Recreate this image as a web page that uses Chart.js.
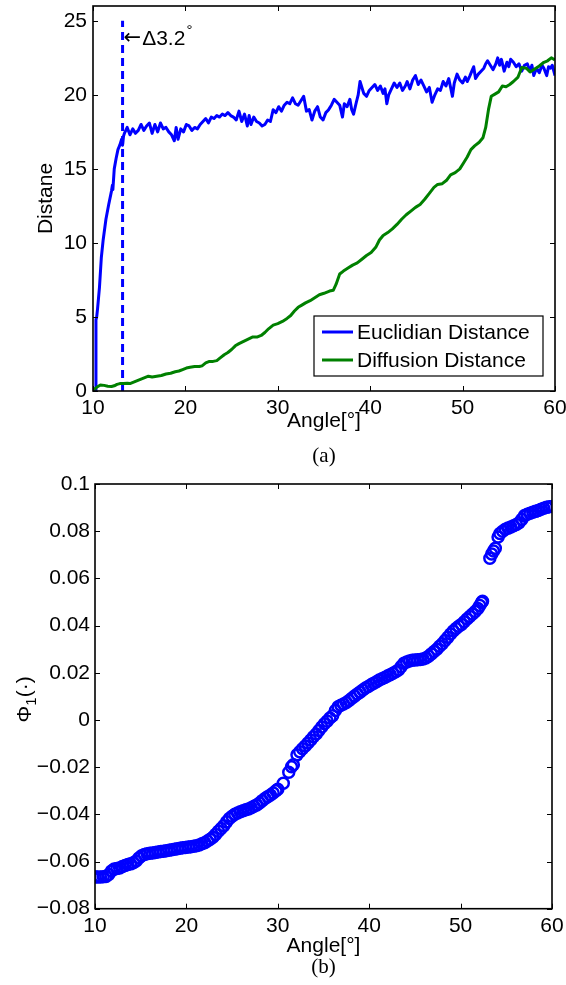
<!DOCTYPE html>
<html>
<head>
<meta charset="utf-8">
<script src="https://cdn.jsdelivr.net/npm/chart.js@4/dist/chart.umd.min.js"></script>
<style>
html,body{margin:0;padding:0;background:#fff;}
#wrap{position:relative;width:566px;height:985px;overflow:hidden;}
canvas{position:absolute;left:0;}
#ca{top:0;}
#cb{top:470px;}
</style>
</head>
<body>
<div id="wrap">
<canvas id="ca" width="566" height="470"></canvas>
<canvas id="cb" width="566" height="515"></canvas>
</div>
<script>
// ---------- data: panel (a) ----------
const seriesNames = ['Euclidian Distance', 'Diffusion Distance'];
const distTicks = [0, 5, 10, 15, 20, 25];
const distTickLabels = ['0', '5', '10', '15', '20', '25'];
const angleTicks = [10, 20, 30, 40, 50, 60];
const angleTickLabels = ['10', '20', '30', '40', '50', '60'];
const thresholdAngle = 13.2;
const thresholdLine = [[13.2, 0], [13.2, 25]];
const thresholdArrow = '\u2190';
const thresholdText = '\u03943.2';

const euclidPoints = [
 [10.3,0],[10.32,4.8],[10.4,5.0],[10.5,5.6],[10.7,7.0],[10.9,9.0],[11.1,10.2],[11.4,11.6],[11.7,12.6],[12.0,13.5],
 [12.1,13.9],[12.15,13.6],[12.3,15.0],[12.5,15.7],[12.7,16.3],[12.9,16.6],[13.1,17.0],[13.2,16.6],[13.3,17.2],
 [13.4,17.4],[13.7,17.8],[14.0,17.3],[14.3,17.7],[14.6,17.4],[14.9,17.6],[15.2,18.0],[15.5,17.6],[15.8,17.9],[16.1,18.1],
 [16.4,17.4],[16.7,18.0],[17.0,17.5],[17.3,18.1],[17.6,17.7],[17.9,17.8],[18.2,17.5],[18.5,17.3],[18.8,16.9],[19.0,17.8],
 [19.2,17.0],[19.5,17.7],[19.8,17.5],[20.1,18.0],[20.4,17.9],[20.7,17.6],[21.0,17.8],[21.3,17.7],[21.6,18.0],[21.9,18.2],
 [22.2,18.4],[22.5,18.1],[22.8,18.5],[23.1,18.4],[23.4,18.6],[23.7,18.5],[24.0,18.7],[24.3,18.6],[24.6,18.8],[24.9,18.6],
 [25.2,18.5],[25.5,18.3],[25.8,18.9],[26.1,18.2],[26.4,18.7],[26.7,17.9],[26.9,18.6],[27.1,18.0],[27.4,18.5],[27.7,18.2],
 [28.0,18.1],[28.3,17.9],[28.6,18.0],[28.9,18.3],[29.2,18.2],[29.5,19.0],[29.8,18.8],[30.1,19.2],[30.4,18.9],[30.7,19.3],
 [31.0,19.5],[31.3,19.4],[31.6,19.8],[31.9,19.4],[32.2,19.3],[32.5,19.6],[32.8,19.9],[33.1,18.9],[33.4,19.0],[33.7,18.3],
 [34.0,18.9],[34.3,19.2],[34.6,18.5],[34.9,18.3],[35.2,18.8],[35.5,19.0],[35.8,19.3],[36.1,19.7],[36.4,19.5],[36.7,19.3],
 [37.0,18.5],[37.2,19.4],[37.5,19.2],[37.8,19.7],[38.0,19.0],[38.2,18.7],[38.5,19.5],[38.7,20.0],[38.9,20.9],[39.1,20.5],
 [39.3,20.1],[39.6,19.9],[39.9,20.3],[40.2,20.5],[40.5,20.7],[40.8,20.3],[41.1,20.6],[41.4,20.1],[41.6,20.4],[41.8,19.4],
 [42.0,20.0],[42.3,20.4],[42.6,20.8],[42.9,20.5],[43.2,20.8],[43.5,20.3],[43.8,20.6],[44.0,20.9],[44.3,20.4],[44.6,21.0],
 [44.9,21.3],[45.2,20.7],[45.5,21.0],[45.8,20.6],[46.1,20.2],[46.4,20.5],[46.7,19.5],[47.0,20.0],[47.3,20.4],[47.6,20.3],
 [47.9,20.9],[48.2,20.6],[48.5,21.1],[48.7,20.5],[48.9,19.9],[49.1,20.8],[49.4,21.4],[49.7,21.0],[50.0,20.8],[50.3,21.2],
 [50.5,20.9],[50.8,21.3],[51.0,21.6],[51.2,21.9],[51.4,21.1],[51.7,21.4],[52.0,21.6],[52.3,21.8],[52.5,22.1],[52.7,22.3],
 [53.0,22.0],[53.3,21.7],[53.6,22.1],[53.8,22.5],[54.0,22.0],[54.2,22.4],[54.5,21.6],[54.8,22.2],[55.0,21.9],[55.2,22.4],
 [55.5,22.2],[55.8,21.9],[56.1,22.1],[56.4,21.6],[56.7,22.0],[57.0,22.1],[57.3,21.6],[57.5,22.0],[57.7,21.3],[58.0,21.8],
 [58.3,21.5],[58.6,22.0],[58.8,21.8],[59.1,21.3],[59.3,21.9],[59.5,21.8],[59.7,22.0],[60.0,21.3]
];

const diffusionPoints = [
 [10.0,0.05],[10.4,0.25],[10.8,0.4],[11.2,0.38],[11.6,0.32],[12.0,0.3],[12.3,0.35],[12.6,0.45],[12.9,0.5],[13.3,0.5],
 [13.7,0.52],[14.0,0.5],[14.4,0.6],[14.8,0.7],[15.2,0.8],[15.6,0.9],[16.0,1.0],[16.4,0.95],[16.9,1.0],[17.4,1.05],
 [17.9,1.15],[18.4,1.2],[18.9,1.3],[19.3,1.35],[19.7,1.45],[20.1,1.55],[20.5,1.6],[21.0,1.65],[21.5,1.65],[21.8,1.7],
 [22.2,1.9],[22.6,2.0],[23.0,2.0],[23.4,2.05],[23.8,2.25],[24.2,2.45],[24.6,2.6],[25.0,2.8],[25.4,3.05],[25.8,3.2],
 [26.3,3.35],[26.8,3.5],[27.3,3.65],[27.8,3.65],[28.2,3.75],[28.6,3.95],[29.0,4.2],[29.5,4.45],[30.0,4.55],[30.5,4.7],
 [31.0,4.9],[31.4,5.1],[31.8,5.4],[32.2,5.65],[32.6,5.8],[33.0,5.95],[33.5,6.1],[34.0,6.3],[34.5,6.5],[35.0,6.6],
 [35.6,6.75],[36.0,6.8],[36.3,7.2],[36.7,7.9],[37.1,8.1],[37.6,8.3],[38.1,8.5],[38.6,8.65],[39.1,8.9],[39.6,9.15],
 [40.1,9.35],[40.6,9.7],[41.0,10.2],[41.4,10.5],[41.9,10.7],[42.4,10.95],[42.9,11.25],[43.4,11.6],[43.9,11.9],[44.4,12.15],
 [44.9,12.4],[45.4,12.6],[45.9,12.95],[46.4,13.35],[46.9,13.75],[47.3,13.95],[47.8,14.0],[48.3,14.25],[48.7,14.6],[49.2,14.75],
 [49.7,15.0],[50.1,15.4],[50.5,15.8],[50.9,16.3],[51.3,16.55],[51.8,16.8],[52.2,17.1],[52.5,17.8],[52.8,19.0],[53.1,19.9],
 [53.5,20.05],[53.9,20.2],[54.3,20.6],[54.7,20.55],[55.1,20.7],[55.5,20.9],[56.0,21.2],[56.4,21.85],[56.9,21.8],[57.3,21.55],
 [57.8,21.75],[58.3,21.95],[58.8,22.2],[59.2,22.3],[59.6,22.5],[60.0,22.35]
];

// ---------- data: panel (b) ----------
const phiTicks = [-0.08, -0.06, -0.04, -0.02, 0, 0.02, 0.04, 0.06, 0.08, 0.1];
const phiTickLabels = ['\u22120.08', '\u22120.06', '\u22120.04', '\u22120.02', '0', '0.02', '0.04', '0.06', '0.08', '0.1'];
const phiPoints = [
 [10.0,-0.0665],[10.3,-0.0666],[10.6,-0.0666],[10.9,-0.0665],[11.2,-0.0663],[11.5,-0.0655],[11.8,-0.0640],[12.1,-0.0632],
 [12.4,-0.0630],[12.7,-0.0627],[13.0,-0.0621],[13.3,-0.0617],[13.6,-0.0613],[13.9,-0.0610],[14.2,-0.0605],[14.5,-0.0598],
 [14.8,-0.0585],[15.1,-0.0576],[15.4,-0.0570],[15.7,-0.0567],[16.0,-0.0565],[16.3,-0.0564],[16.6,-0.0562],[16.9,-0.0560],
 [17.2,-0.0558],[17.5,-0.0556],[17.8,-0.0554],[18.1,-0.0552],[18.4,-0.0550],[18.7,-0.0548],[19.0,-0.0546],[19.3,-0.0544],
 [19.6,-0.0542],[19.9,-0.0541],[20.2,-0.0539],[20.5,-0.0537],[20.8,-0.0535],[21.1,-0.0533],[21.4,-0.0530],[21.7,-0.0525],
 [22.0,-0.0520],[22.3,-0.0513],[22.6,-0.0506],[22.9,-0.0497],[23.2,-0.0485],[23.5,-0.0472],[23.8,-0.0460],[24.1,-0.0448],
 [24.4,-0.0432],[24.7,-0.0418],[25.0,-0.0408],[25.3,-0.0400],[25.6,-0.0394],[25.9,-0.0389],[26.2,-0.0385],[26.5,-0.0381],
 [26.8,-0.0377],[27.1,-0.0372],[27.4,-0.0366],[27.7,-0.0360],[28.0,-0.0352],[28.3,-0.0342],[28.6,-0.0333],[28.9,-0.0325],
 [29.2,-0.0318],[29.5,-0.0310],[29.8,-0.0300],[30.0,-0.0294],[30.6,-0.0268],[31.2,-0.0222],[31.5,-0.0198],[31.7,-0.0190],
 [32.1,-0.0148],[32.4,-0.0135],[32.7,-0.0122],[33.0,-0.0110],[33.3,-0.0098],[33.6,-0.0085],[33.9,-0.0071],[34.2,-0.0060],
 [34.5,-0.0045],[34.8,-0.0030],[35.1,-0.0016],[35.4,-0.0005],[35.7,0.0008],[36.0,0.0018],[36.3,0.0040],[36.6,0.0056],
 [36.9,0.0062],[37.2,0.0068],[37.5,0.0074],[37.8,0.0082],[38.1,0.0092],[38.4,0.0101],[38.7,0.0110],[39.0,0.0118],
 [39.3,0.0127],[39.6,0.0135],[39.9,0.0142],[40.2,0.0149],[40.5,0.0156],[40.8,0.0162],[41.1,0.0169],[41.4,0.0175],
 [41.7,0.0180],[42.0,0.0186],[42.3,0.0192],[42.6,0.0198],[42.9,0.0204],[43.2,0.0212],[43.5,0.0226],[43.8,0.0240],
 [44.1,0.0246],[44.4,0.0250],[44.7,0.0253],[45.0,0.0254],[45.3,0.0255],[45.6,0.0256],[45.9,0.0258],[46.2,0.0263],
 [46.5,0.0270],[46.8,0.0280],[47.1,0.0290],[47.4,0.0300],[47.7,0.0312],[48.0,0.0323],[48.3,0.0337],[48.6,0.0350],
 [48.9,0.0364],[49.2,0.0377],[49.5,0.0388],[49.8,0.0397],[50.1,0.0405],[50.4,0.0416],[50.7,0.0428],[51.0,0.0438],
 [51.3,0.0449],[51.6,0.0460],[51.9,0.0472],[52.1,0.0485],[52.3,0.0498],[52.4,0.0503],
 [53.2,0.0685],[53.4,0.0703],[53.6,0.0716],[53.8,0.0728],[54.1,0.0775],[54.3,0.0790],[54.6,0.0800],[54.9,0.0808],
 [55.2,0.0813],[55.5,0.0818],[55.8,0.0823],[56.1,0.0828],[56.4,0.0836],[56.7,0.0850],[57.0,0.0866],[57.3,0.0872],
 [57.6,0.0876],[57.9,0.0880],[58.2,0.0884],[58.5,0.0888],[58.8,0.0893],[59.1,0.0897],[59.4,0.0901],[59.7,0.0904],[60.0,0.0905]
];

// ---------- helpers ----------
const SANS = '"Liberation Sans", Arial, Helvetica, sans-serif';
const SERIF = '"Liberation Serif", "Times New Roman", serif';
const BLUE = '#0000ff';
const GREEN = '#008000';
const toXY = arr => arr.map(p => ({x: p[0], y: p[1]}));

const framePlugin = {
  id: 'frame',
  afterDraw(chart, args, opts) {
    const ctx = chart.ctx;
    const {left, right, top, bottom} = chart.chartArea;
    const xs = chart.scales.x, ys = chart.scales.y;
    ctx.save();
    ctx.strokeStyle = '#000';
    ctx.lineWidth = 1;
    const L = 5;
    ctx.beginPath();
    xs.ticks.forEach(t => {
      const px = Math.round(xs.getPixelForValue(t.value)) + 0.5;
      ctx.moveTo(px, bottom); ctx.lineTo(px, bottom - L);
      ctx.moveTo(px, top); ctx.lineTo(px, top + L);
    });
    ys.ticks.forEach(t => {
      const py = Math.round(ys.getPixelForValue(t.value)) + 0.5;
      ctx.moveTo(left, py); ctx.lineTo(left + L, py);
      ctx.moveTo(right, py); ctx.lineTo(right - L, py);
    });
    ctx.stroke();
    ctx.lineWidth = 1.6;
    ctx.strokeRect(left, top, right - left, bottom - top);
    // caption
    ctx.fillStyle = '#000';
    ctx.font = '21px ' + SERIF;
    ctx.textAlign = 'center';
    ctx.textBaseline = 'alphabetic';
    ctx.fillText(opts.caption, (left + right) / 2, bottom + opts.captionDy);
    ctx.restore();
  }
};

const legendPlugin = {
  id: 'boxLegend',
  afterDraw(chart, args, opts) {
    if (!opts.show) return;
    const ctx = chart.ctx;
    const {right, bottom} = chart.chartArea;
    const w = 229, h = 60;
    const bx = right - 12 - w, by = bottom - 15 - h;
    ctx.save();
    ctx.fillStyle = '#fff';
    ctx.fillRect(bx, by, w, h);
    ctx.strokeStyle = '#000';
    ctx.lineWidth = 1.2;
    ctx.strokeRect(bx, by, w, h);
    ctx.font = '21px ' + SANS;
    ctx.textAlign = 'left';
    ctx.textBaseline = 'middle';
    const items = chart.data.datasets.filter(d => seriesNames.includes(d.label));
    items.sort((a, b) => seriesNames.indexOf(a.label) - seriesNames.indexOf(b.label));
    items.forEach((d, i) => {
      const cy = by + 16 + i * 28;
      ctx.strokeStyle = d.borderColor;
      ctx.lineWidth = 3;
      ctx.beginPath();
      ctx.moveTo(bx + 8, cy); ctx.lineTo(bx + 39, cy);
      ctx.stroke();
      ctx.fillStyle = '#000';
      ctx.fillText(d.label, bx + 43, cy + 1);
    });
    ctx.restore();
  }
};

const annotPlugin = {
  id: 'annot',
  afterDatasetsDraw(chart, args, opts) {
    if (!opts.show) return;
    const ctx = chart.ctx;
    const xs = chart.scales.x, ys = chart.scales.y;
    let px = xs.getPixelForValue(thresholdAngle) + 1;
    const py = ys.getPixelForValue(23.35);
    ctx.save();
    ctx.fillStyle = '#000';
    ctx.textAlign = 'left';
    ctx.textBaseline = 'alphabetic';
    ctx.font = '21px "DejaVu Sans", sans-serif';
    ctx.fillText(thresholdArrow, px, py - 1);
    px += ctx.measureText(thresholdArrow).width + 1;
    ctx.font = '21px ' + SANS;
    ctx.fillText(thresholdText, px, py);
    const w = ctx.measureText(thresholdText).width;
    ctx.font = '15px ' + SANS;
    ctx.fillText('\u00B0', px + w + 1, py - 10);
    ctx.restore();
  }
};

const phiLabelPlugin = {
  id: 'phiLabel',
  afterDraw(chart, args, opts) {
    if (!opts.show) return;
    const ctx = chart.ctx;
    const {top, bottom} = chart.chartArea;
    const cy = (top + bottom) / 2 + 3;
    const big = '21px ' + SANS, small = '15px ' + SANS;
    ctx.save();
    ctx.fillStyle = '#000';
    ctx.textBaseline = 'alphabetic';
    ctx.font = big; const w1 = ctx.measureText('\u03A6').width;
    ctx.font = small; const w2 = ctx.measureText('1').width;
    ctx.font = big; const w3 = ctx.measureText('(\u00B7)').width;
    const total = w1 + w2 + w3;
    ctx.translate(31, cy);
    ctx.rotate(-Math.PI / 2);
    let x0 = -total / 2;
    ctx.textAlign = 'left';
    ctx.font = big; ctx.fillText('\u03A6', x0, 0); x0 += w1;
    ctx.font = small; ctx.fillText('1', x0, 5); x0 += w2;
    ctx.font = big; ctx.fillText('(\u00B7)', x0, 0);
    ctx.restore();
  }
};

Chart.defaults.font.family = SANS;
Chart.defaults.font.size = 21;
Chart.defaults.color = '#000';

function xScale(height, titlePadBottom) {
  return {
    type: 'linear', min: 10, max: 60,
    grid: {display: false, drawTicks: false},
    border: {display: false},
    afterBuildTicks: s => { s.ticks = angleTicks.map(v => ({value: v})); },
    ticks: {
      padding: 5, maxRotation: 0, autoSkip: false,
      font: {size: 21, family: SANS}, color: '#000',
      callback: (v) => angleTickLabels[angleTicks.indexOf(v)]
    },
    title: {display: true, text: 'Angle[\u00B0]', font: {size: 21, family: SANS}, color: '#000',
            padding: {top: 0, bottom: titlePadBottom}},
    afterFit: s => { s.height = height; s.paddingLeft = 0; s.paddingRight = 0; }
  };
}

// ---------- panel (a) ----------
new Chart(document.getElementById('ca'), {
  type: 'line',
  data: {
    datasets: [
      {label: seriesNames[0], data: toXY(euclidPoints), borderColor: BLUE, borderWidth: 3,
       pointRadius: 0, tension: 0, fill: false, order: 1, borderJoinStyle: 'round'},
      {label: seriesNames[1], data: toXY(diffusionPoints), borderColor: GREEN, borderWidth: 3,
       pointRadius: 0, tension: 0, fill: false, order: 0, borderJoinStyle: 'round'},
      {label: 'threshold', data: toXY(thresholdLine), borderColor: BLUE, borderWidth: 3,
       borderDash: [8, 5], pointRadius: 0, fill: false, order: 2}
    ]
  },
  options: {
    responsive: false, animation: false, devicePixelRatio: 1,
    layout: {padding: {left: 0, top: 6, right: 11, bottom: 34}},
    plugins: {
      legend: {display: false}, tooltip: {enabled: false}, title: {display: false},
      frame: {caption: '(a)', captionDy: 70.7},
      boxLegend: {show: true},
      annot: {show: true},
      phiLabel: {show: false}
    },
    scales: {
      x: xScale(45, 2.4),
      y: {
        type: 'linear', min: 0, max: 26,
        grid: {display: false, drawTicks: false},
        border: {display: false},
        afterBuildTicks: s => { s.ticks = distTicks.map(v => ({value: v})); },
        ticks: {padding: 6, autoSkip: false, font: {size: 21, family: SANS}, color: '#000',
                callback: (v) => distTickLabels[distTicks.indexOf(v)]},
        title: {display: true, text: 'Distane', font: {size: 21, family: SANS}, color: '#000',
                padding: {top: 34, bottom: 0}},
        afterFit: s => { s.width = 93; s.paddingTop = 0; s.paddingBottom = 0; }
      }
    }
  },
  plugins: [framePlugin, legendPlugin, annotPlugin, phiLabelPlugin]
});

// ---------- panel (b) ----------
new Chart(document.getElementById('cb'), {
  type: 'scatter',
  data: {
    datasets: [
      {label: 'phi1', data: toXY(phiPoints), borderColor: BLUE, backgroundColor: 'rgba(0,0,0,0)',
       pointRadius: 5.5, pointBorderWidth: 2.5, pointStyle: 'circle', showLine: false}
    ]
  },
  options: {
    responsive: false, animation: false, devicePixelRatio: 1,
    layout: {padding: {left: 0, top: 14, right: 14, bottom: 25.7}},
    plugins: {
      legend: {display: false}, tooltip: {enabled: false}, title: {display: false},
      frame: {caption: '(b)', captionDy: 64.3},
      boxLegend: {show: false},
      annot: {show: false},
      phiLabel: {show: true}
    },
    scales: {
      x: xScale(50.6, 0),
      y: {
        type: 'linear', min: -0.08, max: 0.1,
        grid: {display: false, drawTicks: false},
        border: {display: false},
        afterBuildTicks: s => { s.ticks = phiTicks.map(v => ({value: v})); },
        ticks: {padding: 5, autoSkip: false, font: {size: 21, family: SANS}, color: '#000',
                callback: (v) => {
                  const i = phiTicks.findIndex(t => Math.abs(t - v) < 1e-9);
                  return i >= 0 ? phiTickLabels[i] : '';
                }},
        afterFit: s => { s.width = 95; s.paddingTop = 0; s.paddingBottom = 0; }
      }
    }
  },
  plugins: [framePlugin, legendPlugin, annotPlugin, phiLabelPlugin]
});
</script>
</body>
</html>
